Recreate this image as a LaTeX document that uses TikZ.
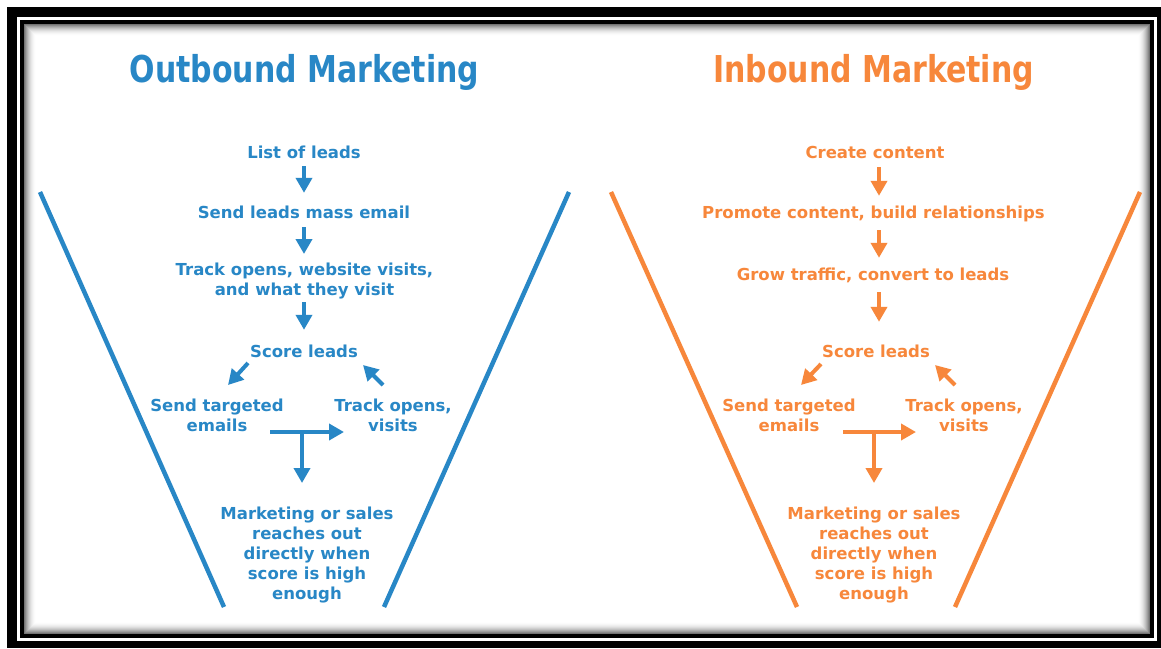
\documentclass[tikz,border=0pt]{standalone}
\usepackage{fontspec}
\usepackage{graphicx}
\setmainfont{DejaVu Sans}
\usetikzlibrary{arrows.meta,calc}
\definecolor{obBlue}{RGB}{40,135,198}
\definecolor{ibOrange}{RGB}{247,135,59}
\tikzset{
  lbl/.style={inner sep=0pt, text height=12.6pt, text depth=4pt, anchor=base,
    font=\fontsize{16.5}{20}\selectfont\bfseries},
  lblm/.style={inner sep=0pt, anchor=north, align=center,
    font=\fontsize{16.5}{20}\selectfont\bfseries},
  ttl/.style={inner sep=0pt, anchor=base, font=\fontsize{37}{40}\selectfont\bfseries},
  arr/.style={line width=4pt, -{Triangle[length=15pt,width=16pt]}},
  funnel/.style={line width=4.5pt},
}
\begin{document}
\begin{tikzpicture}[x=1pt,y=-1pt]
\useasboundingbox (0,0) rectangle (1161,648);
% frame
\fill[white] (0,0) rectangle (1161,648);
\fill[black] (7,7) rectangle (1161,648);
\fill[white] (17,17) rectangle (1157,641);
\fill[black] (20,20) rectangle (1154,638);
\foreach \i in {0,...,12}{
  \pgfmathsetmacro{\s}{55*(1-\i/12)^2}
  \fill[black!\s] (24+\i,24+\i) rectangle (1150-\i,634-\i);
}
\fill[white] (37,37) rectangle (1137,621);

% ===== Outbound (blue) =====
\begin{scope}[obBlue]
\node[ttl, text=obBlue] (otitle) at (304.5,82) {\scalebox{0.81}[1]{Outbound Marketing}};
\node[lbl, text=obBlue] (olist) at (304,158) {List of leads};
\node[lbl, text=obBlue] (osend) at (304,218) {Send leads mass email};
\node[lblm, text=obBlue] (otrack) at (304.5,262.5) {Track opens, website visits,\\and what they visit};
\node[lbl, text=obBlue] (oscore) at (304,357) {Score leads};
\node[lblm, text=obBlue] (otgt) at (217,398.5) {Send targeted\\emails};
\node[lblm, text=obBlue] (otop) at (393,398.5) {Track opens,\\visits};
\node[lblm, text=obBlue] (omkt) at (307,506.5) {Marketing or sales\\reaches out\\directly when\\score is high\\enough};

\draw[arr, shorten <=4pt, shorten >=12.4pt] (olist.south) -- (olist.south |- osend.north);
\draw[arr, shorten <=5pt, shorten >=8.5pt] (osend.south) -- (osend.south |- otrack.north);
\draw[arr, shorten <=3pt, shorten >=14.4pt] (otrack.south -| oscore.north) -- (oscore.north);

\coordinate (od1s) at (248,363);
\coordinate (od1e) at (228,385);
\coordinate (od2s) at (383,385);
\coordinate (od2e) at (363,365);
\draw[arr] (od1s) -- (od1e);
\draw[arr] (od2s) -- (od2e);

\coordinate (ohl) at (270,432);
\coordinate (ohr) at (344,432);
\coordinate (otj) at (302,432);
\draw[arr] (ohl) -- (ohr);
\draw[arr, shorten >=23.5pt] (otj) -- (otj |- omkt.north);

\draw[funnel] (40,192) -- (224,607);
\draw[funnel] (569,192) -- (384,607);
\end{scope}

% ===== Inbound (orange) =====
\begin{scope}[ibOrange]
\node[ttl, text=ibOrange] (ititle) at (873.5,82) {\scalebox{0.81}[1]{Inbound Marketing}};
\node[lbl, text=ibOrange] (icreate) at (875,158) {Create content};
\node[lbl, text=ibOrange] (iprom) at (873.5,218) {Promote content, build relationships};
\node[lbl, text=ibOrange] (igrow) at (873,280) {Grow traffic, convert to leads};
\node[lbl, text=ibOrange] (iscore) at (876,357) {Score leads};
\node[lblm, text=ibOrange] (itgt) at (789,398.5) {Send targeted\\emails};
\node[lblm, text=ibOrange] (itop) at (964,398.5) {Track opens,\\visits};
\node[lblm, text=ibOrange] (imkt) at (874,506.5) {Marketing or sales\\reaches out\\directly when\\score is high\\enough};

\coordinate (iax) at (879,0);
\draw[arr, shorten <=5pt, shorten >=9.4pt] (icreate.south -| iax) -- (iprom.north -| iax);
\draw[arr, shorten <=8pt, shorten >=9.4pt] (iprom.south -| iax) -- (igrow.north -| iax);
\draw[arr, shorten <=8pt, shorten >=22.4pt] (igrow.south -| iax) -- (iscore.north -| iax);

\coordinate (id1s) at (821,364);
\coordinate (id1e) at (801,385);
\coordinate (id2s) at (955,385);
\coordinate (id2e) at (935,365);
\draw[arr] (id1s) -- (id1e);
\draw[arr] (id2s) -- (id2e);

\coordinate (ihl) at (843,432);
\coordinate (ihr) at (916,432);
\coordinate (itj) at (874,432);
\draw[arr] (ihl) -- (ihr);
\draw[arr, shorten >=23.5pt] (itj) -- (itj |- imkt.north);

\draw[funnel] (611,192) -- (797,607);
\draw[funnel] (1140,192) -- (955,607);
\end{scope}
\end{tikzpicture}
\end{document}
